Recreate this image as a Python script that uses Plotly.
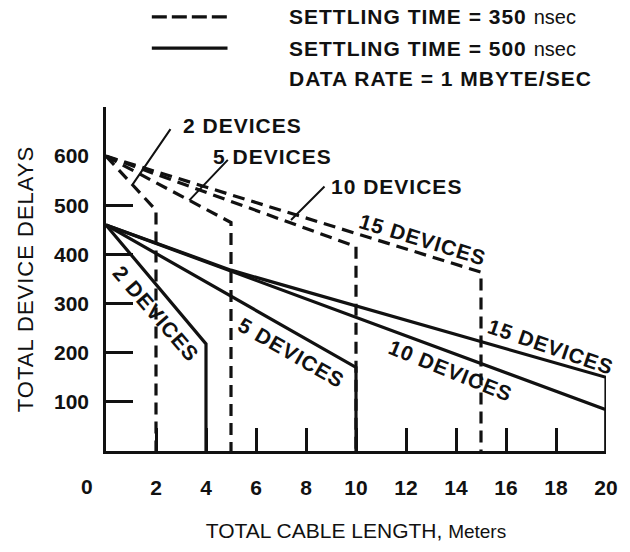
import plotly.graph_objects as go

FONT = "Liberation Sans"

# ---------------- data ----------------
# Settling time = 350 nsec (dashed): total cable length (m) -> total device delays
len_350_2dev = [0, 2, 2]
del_350_2dev = [600, 490, 0]
len_350_5dev = [0, 5, 5]
del_350_5dev = [600, 465, 0]
len_350_10dev = [0, 10, 10]
del_350_10dev = [600, 416, 0]
len_350_15dev = [0, 15, 15]
del_350_15dev = [600, 364, 0]

# Settling time = 500 nsec (solid)
len_500_2dev = [0, 4, 4]
del_500_2dev = [460, 218, 0]
len_500_5dev = [0, 10, 10]
del_500_5dev = [460, 170, 0]
len_500_10dev = [0, 20, 20]
del_500_10dev = [460, 84, 0]
len_500_15dev = [0, 5, 20, 20]
del_500_15dev = [460, 368, 150, 0]

x_tick_vals = [2, 4, 6, 8, 10, 12, 14, 16, 18, 20]
x_tick_text = ["2", "4", "6", "8", "10", "12", "14", "16", "18", "20"]
y_label_vals = [100, 200, 300, 400, 500, 600]
y_label_text = ["100", "200", "300", "400", "500", "600"]
y_tick_marks = [100, 200, 300, 400, 500, 700]

BLACK = "#111111"
LW = 3.2
DASH = "12px,7px"

fig = go.Figure()

for xs, ys in [(len_350_2dev, del_350_2dev), (len_350_5dev, del_350_5dev),
               (len_350_10dev, del_350_10dev), (len_350_15dev, del_350_15dev)]:
    fig.add_trace(go.Scatter(x=xs, y=ys, mode="lines", showlegend=False,
                             line=dict(color=BLACK, width=LW, dash=DASH),
                             hoverinfo="skip"))
for xs, ys in [(len_500_2dev, del_500_2dev), (len_500_5dev, del_500_5dev),
               (len_500_10dev, del_500_10dev), (len_500_15dev, del_500_15dev)]:
    fig.add_trace(go.Scatter(x=xs, y=ys, mode="lines", showlegend=False,
                             line=dict(color=BLACK, width=LW),
                             hoverinfo="skip"))

# carrier trace for the overlaying axis that holds the tick labels
fig.add_trace(go.Scatter(x=[None], y=[None], yaxis="y2", showlegend=False,
                         mode="lines", hoverinfo="skip"))

SP = 'letter-spacing:1px'
bold = dict(family=FONT, size=21, color=BLACK, weight="bold")

def sp(t):
    return '<span style="%s">%s</span>' % (SP, t)

annotations = []
# curve labels (dashed family)
annotations.append(dict(x=3.0, y=662, text=sp("2 DEVICES"), xanchor="left", yanchor="middle"))
annotations.append(dict(x=4.2, y=600, text=sp("5 DEVICES"), xanchor="left", yanchor="middle"))
annotations.append(dict(x=8.9, y=538, text=sp("10 DEVICES"), xanchor="left", yanchor="middle"))
annotations.append(dict(x=12.67, y=430, text=sp("15 DEVICES"), textangle=17))
# curve labels (solid family)
annotations.append(dict(x=2.0, y=280, text=sp("2 DEVICES"), textangle=49))
annotations.append(dict(x=7.4, y=200, text=sp("5 DEVICES"), textangle=30))
annotations.append(dict(x=13.78, y=164, text=sp("10 DEVICES"), textangle=22))
annotations.append(dict(x=17.76, y=212, text=sp("15 DEVICES"), textangle=19))
for a in annotations:
    a.update(xref="x", yref="y", showarrow=False, font=bold)

# leader lines
for (px, py, ax, ay) in [(1.06, 542, 39, -57), (3.33, 510, 40, -42), (7.4, 470, 35, -35)]:
    annotations.append(dict(x=px, y=py, xref="x", yref="y", text="", showarrow=True,
                            arrowhead=0, arrowwidth=2, arrowcolor=BLACK, ax=ax, ay=ay,
                            standoff=0, startstandoff=0))

# "0" tick label set left of the axis as in the original
annotations.append(dict(x=0, y=-0.103, xref="x", yref="paper", text="0", showarrow=False,
                        xshift=-19, xanchor="center", yanchor="middle", font=bold))

# legend block
def px2paper_x(p):
    return (p - 106) / 502.0

def px2paper_y(p):
    return (458 - p) / 351.0

nsec = '<span style="font-weight:normal;font-size:20px">nsec</span>'
leg_lines = [(15, sp("SETTLING TIME = 350 ") + nsec),
             (47, sp("SETTLING TIME = 500 ") + nsec),
             (78, sp("DATA RATE = 1 MBYTE/SEC"))]
for yy, t in leg_lines:
    annotations.append(dict(x=px2paper_x(288), y=px2paper_y(yy), xref="paper", yref="paper",
                            text=t, showarrow=False, xanchor="left", yanchor="middle",
                            font=bold))

shapes = [
    dict(type="line", xref="paper", yref="paper", x0=px2paper_x(152), x1=px2paper_x(228),
         y0=px2paper_y(15), y1=px2paper_y(15),
         line=dict(color=BLACK, width=LW, dash="15px,5px")),
    dict(type="line", xref="paper", yref="paper", x0=px2paper_x(152), x1=px2paper_x(228),
         y0=px2paper_y(47), y1=px2paper_y(47), line=dict(color=BLACK, width=LW)),
]

fig.update_layout(
    width=630, height=552,
    margin=dict(l=106, r=22, t=107, b=94),
    paper_bgcolor="white", plot_bgcolor="white",
    font=dict(family=FONT, color=BLACK),
    showlegend=False,
    annotations=annotations,
    shapes=shapes,
    xaxis=dict(range=[0, 20], showgrid=False, zeroline=False,
               showline=True, linewidth=LW, linecolor=BLACK,
               tickmode="array", tickvals=x_tick_vals, ticktext=x_tick_text,
               ticks="inside", ticklen=23, tickwidth=2.6, tickcolor=BLACK,
               tickfont=bold, ticklabelstandoff=16,
               title=dict(text='TOTAL CABLE LENGTH, <span style="font-size:19px">Meters</span>',
                          font=dict(family=FONT, size=21, color=BLACK), standoff=26)),
    yaxis=dict(range=[0, 700], showgrid=False, zeroline=False,
               showline=True, linewidth=LW, linecolor=BLACK,
               tickmode="array", tickvals=y_tick_marks,
               ticks="inside", ticklen=27, tickwidth=2.6, tickcolor=BLACK,
               showticklabels=False),
    yaxis2=dict(overlaying="y", anchor="x", side="left", range=[0, 700],
                showgrid=False, zeroline=False, showline=False,
                tickmode="array", tickvals=y_label_vals, ticktext=y_label_text,
                ticks="", tickfont=bold, ticklabelstandoff=16,
                title=dict(text=sp("TOTAL DEVICE DELAYS"),
                           font=dict(family=FONT, size=22, color=BLACK), standoff=14)),
)

fig.write_html("out.html", config={"displayModeBar": False},
               post_script="document.body.style.margin='0px';")
